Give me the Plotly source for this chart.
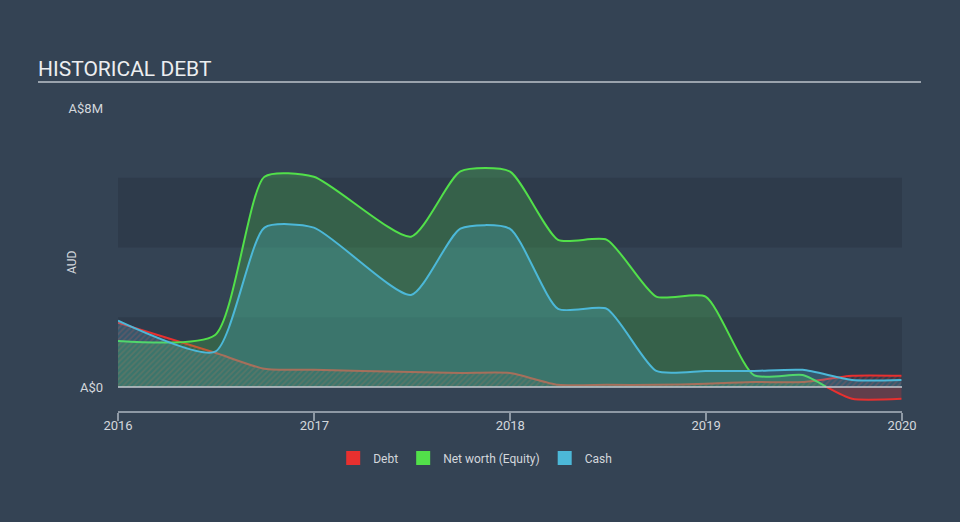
import plotly.graph_objects as go

# ---- data (A$ millions) ----
DATES = ["2016-01-01", "2016-06-30", "2016-09-30", "2016-12-31", "2017-06-30",
         "2017-09-30", "2017-12-31", "2018-03-31", "2018-06-30", "2018-09-30",
         "2018-12-31", "2019-03-31", "2019-06-30", "2019-09-30", "2019-12-31"]
DEBT = [1.84, 0.98, 0.52, 0.49, 0.43, 0.40, 0.40, 0.06, 0.06, 0.06, 0.09, 0.14, 0.14, 0.32, 0.32]
EQUITY = [1.32, 1.49, 6.03, 6.03, 4.31, 6.18, 6.18, 4.22, 4.22, 2.59, 2.59, 0.34, 0.34, -0.34, -0.34]
CASH = [1.90, 1.01, 4.57, 4.57, 2.64, 4.54, 4.54, 2.24, 2.24, 0.46, 0.46, 0.46, 0.49, 0.20, 0.20]
EQUITY_ZERO_CROSS = "2019-08-13"
Y_TICKS = [0, 8]
Y_TICK_TEXT = ["A$0", "A$8M"]
X_TICKS = ["2016-01-01", "2017-01-01", "2018-01-01", "2019-01-01", "2020-01-01"]
X_TICK_TEXT = ["2016", "2017", "2018", "2019", "2020"]

BG = "#344354"
BAND = "#2e3b4b"
RED = "#e8302f"
GREEN = "#52e04a"
BLUE = "#4cb8d8"
TXT = "#d3d7dc"
SMOOTH = 0.6

# split equity into positive and negative parts
pos_x, pos_y, neg_x, neg_y = [], [], [EQUITY_ZERO_CROSS], [0]
for d, v in zip(DATES, EQUITY):
    if v >= 0:
        pos_x.append(d); pos_y.append(v)
    else:
        neg_x.append(d); neg_y.append(v)
pos_x.append(EQUITY_ZERO_CROSS); pos_y.append(0)

fig = go.Figure()

fig.add_trace(go.Scatter(
    x=DATES, y=DEBT, mode="lines", line=dict(color=RED, width=2, shape="spline", smoothing=SMOOTH),
    fill="tozeroy", fillcolor="rgba(0,0,0,0)",
    fillpattern=dict(shape="/", fgcolor="rgba(232,60,50,0.55)", bgcolor="rgba(0,0,0,0)", size=4, solidity=0.45),
    showlegend=False, hoverinfo="skip"))

fig.add_trace(go.Scatter(
    x=pos_x, y=pos_y, mode="lines", line=dict(color=GREEN, width=2, shape="spline", smoothing=SMOOTH),
    fill="tozeroy", fillcolor="rgba(80,220,70,0.24)", showlegend=False, hoverinfo="skip"))

fig.add_trace(go.Scatter(
    x=DATES, y=CASH, mode="lines", line=dict(color=BLUE, width=2, shape="spline", smoothing=SMOOTH),
    fill="tozeroy", fillcolor="rgba(76,184,216,0.24)", showlegend=False, hoverinfo="skip"))

fig.add_trace(go.Scatter(
    x=neg_x, y=neg_y, mode="lines", line=dict(color=RED, width=2, shape="spline", smoothing=SMOOTH),
    fill="tozeroy", fillcolor="rgba(232,48,47,0.25)", showlegend=False, hoverinfo="skip"))

for name, col in [("Debt", RED), ("Net worth (Equity)", GREEN), ("Cash", BLUE)]:
    fig.add_trace(go.Scatter(x=[None], y=[None], mode="markers", name=name,
                             marker=dict(symbol="square", size=14, color=col)))

shapes = [
    dict(type="rect", xref="paper", yref="y", x0=0, x1=1, y0=0, y1=2, fillcolor=BAND, line_width=0, layer="below"),
    dict(type="rect", xref="paper", yref="y", x0=0, x1=1, y0=4, y1=6, fillcolor=BAND, line_width=0, layer="below"),
    dict(type="line", xref="paper", yref="y", x0=0, x1=1, y0=0, y1=0, line=dict(color="#c5cad0", width=1.5), layer="above"),
    dict(type="line", xref="paper", yref="paper", x0=(38 - 118) / 784, x1=(921 - 118) / 784,
         y0=(411 - 82) / 303, y1=(411 - 82) / 303, line=dict(color="#9aa3ad", width=2)),
]

fig.update_layout(
    width=960, height=522,
    paper_bgcolor=BG, plot_bgcolor=BG,
    margin=dict(l=118, r=58, t=108, b=111, autoexpand=False),
    font=dict(family="Roboto, sans-serif", color=TXT, size=12),
    title=dict(text="HISTORICAL DEBT", xref="container", yref="container", x=38 / 960, xanchor="left",
               y=1 - 69 / 522, yanchor="middle", font=dict(size=21, color="#eceef0")),
    shapes=shapes,
    xaxis=dict(type="date", range=["2016-01-01", "2020-01-01"], tickvals=X_TICKS, ticktext=X_TICK_TEXT,
               showgrid=False, zeroline=False, showline=True, linecolor="#8e99a5", linewidth=1.5,
               ticks="outside", ticklen=8, tickcolor="#8e99a5", tickwidth=1.5, automargin=False,
               ticklabelstandoff=-6, tickfont=dict(size=13, color=TXT)),
    yaxis=dict(range=[-0.69, 8.0], tickvals=Y_TICKS, ticktext=Y_TICK_TEXT, showgrid=False, zeroline=False,
               showline=False, ticks="", ticklabelstandoff=14, automargin=False,
               tickfont=dict(size=13, color=TXT)),
    annotations=[dict(text="AUD", textangle=-90, xref="paper", yref="paper", x=(72 - 118) / 784,
                      xanchor="center", yanchor="middle",
                      y=(411 - 262) / 303, showarrow=False, font=dict(size=12, color=TXT))],
    legend=dict(orientation="h", xref="container", yref="container", x=0.495, xanchor="center",
                y=1 - 458 / 522, yanchor="middle", font=dict(size=12, color=TXT), bgcolor="rgba(0,0,0,0)"),
    showlegend=True,
)

fig.write_html("out.html")
